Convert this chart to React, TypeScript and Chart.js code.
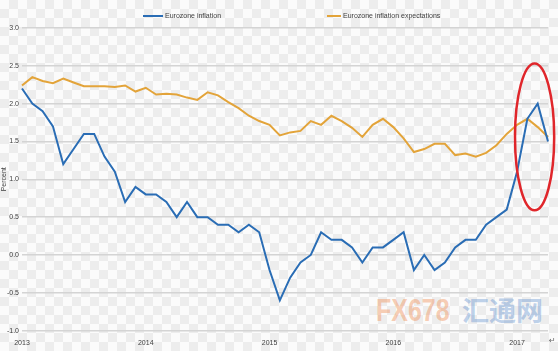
import React, { useEffect, useRef } from "react";
import { Chart, registerables } from "chart.js";

Chart.register(...registerables);

const yearTicks = ["2013", "2014", "2015", "2016", "2017"];
const categories: string[] = Array.from({ length: 52 }, (_, i) =>
  i % 12 === 0 ? yearTicks[i / 12] : ""
);

const inflation = [
  2.2, 2.0, 1.9, 1.7, 1.2, 1.4, 1.6, 1.6, 1.3, 1.1, 0.7, 0.9,
  0.8, 0.8, 0.7, 0.5, 0.7, 0.5, 0.5, 0.4, 0.4, 0.3, 0.4, 0.3,
  -0.2, -0.6, -0.3, -0.1, 0.0, 0.3, 0.2, 0.2, 0.1, -0.1, 0.1, 0.1,
  0.2, 0.3, -0.2, 0.0, -0.2, -0.1, 0.1, 0.2, 0.2, 0.4, 0.5, 0.6,
  1.1, 1.8, 2.0, 1.5,
];

const expectations = [
  2.24, 2.35, 2.3, 2.27, 2.33, 2.28, 2.23, 2.23, 2.23, 2.22, 2.24, 2.16,
  2.21, 2.12, 2.13, 2.12, 2.08, 2.05, 2.15, 2.11, 2.02, 1.94, 1.84, 1.77,
  1.72, 1.58, 1.62, 1.64, 1.77, 1.72, 1.84, 1.77, 1.68, 1.56, 1.72, 1.8,
  1.69, 1.54, 1.36, 1.4, 1.47, 1.47, 1.32, 1.34, 1.3, 1.35, 1.45, 1.6,
  1.72, 1.8, 1.69, 1.56,
];

const seriesNames = ["Eurozone inflation", "Eurozone inflation expectations"];
const highlight = { fromIndex: 47.8, toIndex: 51.6, low: 0.59, high: 2.53 };
const legendStarts = [143, 327];
const legendLineLengths = [20, 14];

const FONT_FAMILY = "'Liberation Sans', Arial, sans-serif";

const legendPlugin = {
  id: "topLegend",
  afterDraw(chart: any) {
    const { ctx } = chart;
    ctx.save();
    ctx.font = `7px ${FONT_FAMILY}`;
    ctx.textBaseline = "middle";
    chart.data.datasets.forEach((ds: any, i: number) => {
      const x0 = legendStarts[i];
      const y0 = 16;
      ctx.beginPath();
      ctx.moveTo(x0, y0);
      ctx.lineTo(x0 + legendLineLengths[i], y0);
      ctx.strokeStyle = ds.borderColor;
      ctx.lineWidth = 2;
      ctx.stroke();
      ctx.fillStyle = "#404040";
      ctx.fillText(ds.label, x0 + legendLineLengths[i] + 2, y0);
    });
    ctx.restore();
  },
};

const ellipsePlugin = {
  id: "highlightEllipse",
  afterDatasetsDraw(chart: any) {
    const { ctx, scales } = chart;
    const x = scales.x;
    const y = scales.y;
    const x1 = x.getPixelForValue(highlight.fromIndex);
    const x2 = x.getPixelForValue(highlight.toIndex);
    const y1 = y.getPixelForValue(highlight.high);
    const y2 = y.getPixelForValue(highlight.low);
    ctx.save();
    ctx.beginPath();
    ctx.ellipse((x1 + x2) / 2, (y1 + y2) / 2, (x2 - x1) / 2, (y2 - y1) / 2, 0, 0, Math.PI * 2);
    ctx.strokeStyle = "#e0262b";
    ctx.lineWidth = 2.5;
    ctx.stroke();
    ctx.restore();
  },
};

export default function App() {
  const ref = useRef<HTMLCanvasElement | null>(null);
  useEffect(() => {
    if (!ref.current) return;
    const font = { family: FONT_FAMILY, size: 7 };
    const chart = new Chart(ref.current, {
      type: "line",
      data: {
        labels: categories,
        datasets: [
          {
            label: seriesNames[0],
            data: inflation,
            borderColor: "#2a6db5",
            backgroundColor: "#2a6db5",
            borderWidth: 2,
            pointRadius: 0,
            tension: 0,
          },
          {
            label: seriesNames[1],
            data: expectations,
            borderColor: "#e3a43a",
            backgroundColor: "#e3a43a",
            borderWidth: 2,
            pointRadius: 0,
            tension: 0,
          },
        ],
      },
      options: {
        animation: false,
        responsive: false,
        maintainAspectRatio: false,
        layout: { padding: { left: 0, right: 10, top: 28, bottom: 4 } },
        plugins: {
          tooltip: { enabled: false },
          legend: { display: false },
        },
        scales: {
          x: {
            type: "category",
            offset: false,
            grid: { display: false },
            border: { display: false },
            ticks: {
              autoSkip: false,
              maxRotation: 0,
              color: "#404040",
              font,
              padding: 0,
            },
          },
          y: {
            min: -1,
            max: 3,
            afterFit: (scale: any) => {
              scale.width = 22;
            },
            grid: { color: "#d4d4d4", lineWidth: 1.5, drawTicks: false },
            border: { display: false },
            ticks: {
              stepSize: 0.5,
              color: "#404040",
              font,
              padding: 3,
              callback: (v: any) => Number(v).toFixed(1),
            },
            title: {
              display: true,
              text: "Percent",
              color: "#404040",
              font,
              padding: 0,
            },
          },
        },
      },
      plugins: [ellipsePlugin, legendPlugin],
    });
    return () => chart.destroy();
  }, []);

  return (
    <div
      style={{
        position: "fixed",
        left: 0,
        top: 0,
        width: 558,
        height: 351,
        overflow: "hidden",
        backgroundColor: "#fbfbfb",
        backgroundImage:
          "conic-gradient(#ededed 25%, transparent 0 50%, #ededed 0 75%, transparent 0)",
        backgroundSize: "18px 18px",
      }}
    >
      <div
        style={{
          position: "absolute",
          left: 376,
          top: 290,
          fontFamily: "'Liberation Sans', Arial, sans-serif",
          fontWeight: 700,
          fontSize: 32,
          lineHeight: "40px",
          color: "rgba(240,140,80,0.42)",
          transform: "scaleX(0.78)",
          transformOrigin: "left center",
          pointerEvents: "none",
        }}
      >
        FX678
      </div>
      <div
        style={{
          position: "absolute",
          left: 462,
          top: 290,
          fontFamily: "'Noto Sans CJK SC', sans-serif",
          fontWeight: 700,
          fontSize: 27,
          lineHeight: "40px",
          color: "rgba(90,140,205,0.4)",
          pointerEvents: "none",
        }}
      >
        汇通网
      </div>
      <canvas ref={ref} width={558} height={351} style={{ position: "absolute", left: 0, top: 0 }} />
      <div
        style={{
          position: "absolute",
          left: 549,
          top: 336,
          fontFamily: "'DejaVu Sans', sans-serif",
          fontSize: 8,
          color: "#666",
        }}
      >
        ↵
      </div>
    </div>
  );
}
